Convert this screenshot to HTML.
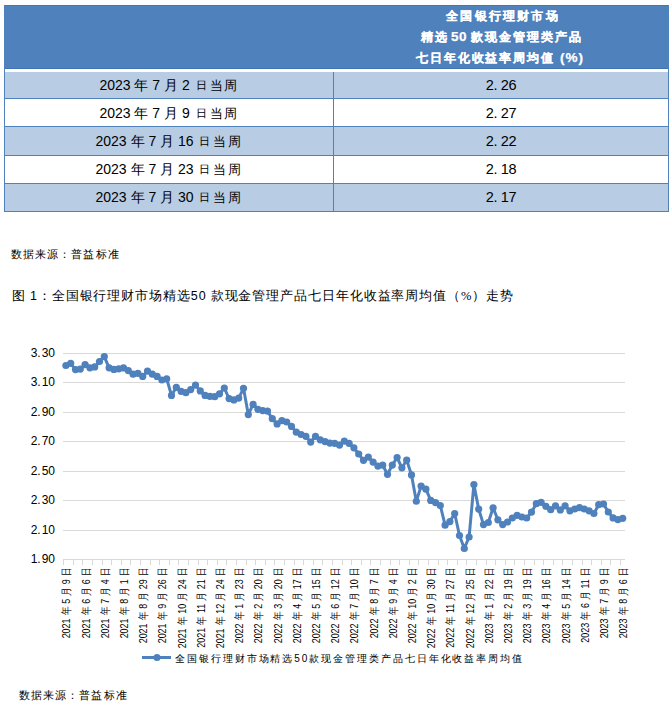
<!DOCTYPE html>
<html><head><meta charset="utf-8">
<style>
html,body{margin:0;padding:0;background:#fff;}
body{width:672px;height:702px;position:relative;overflow:hidden;font-family:"Liberation Sans",sans-serif;color:#000;}
.hdr{position:absolute;left:4px;top:5px;width:665px;height:64px;background:#4F81BD;box-sizing:border-box;border:1px solid #4577B8;border-bottom:1px solid #4073B6;}
.htxt{position:absolute;left:334px;width:334px;text-align:center;color:#fff;font-weight:bold;font-size:12.2px;letter-spacing:1.7px;font-family:"Liberation Serif",serif;white-space:nowrap;-webkit-text-stroke:0.25px #fff;}
.htxt b{font-family:"Liberation Sans",sans-serif;font-size:13.5px;letter-spacing:0.5px;}
.row{position:absolute;left:4px;width:665px;}
.hb{position:absolute;left:4px;width:665px;height:1px;background:#4F81BD;}
.vl{position:absolute;width:1px;background:#4F81BD;}
.c1{position:absolute;left:5px;width:328px;text-align:center;font-size:14px;white-space:nowrap;}
.d{font-size:10.5px;margin:0 3px 0 2px;vertical-align:1px;}
.w{letter-spacing:1.5px;font-size:13px;}
.c2{position:absolute;left:334px;width:334px;text-align:center;font-size:14.5px;letter-spacing:-0.3px;white-space:nowrap;}
.src{position:absolute;font-size:11px;letter-spacing:1.08px;font-family:"Liberation Serif",serif;white-space:nowrap;}
.cap{position:absolute;left:12px;top:288px;font-size:12.5px;letter-spacing:0.91px;font-family:"Liberation Serif",serif;white-space:nowrap;}
.cap i{font-style:normal;font-family:"Liberation Sans",sans-serif;}
svg{position:absolute;left:0;top:0;}
</style></head><body>
<div class="hdr"></div>
<div class="htxt" style="top:8px;letter-spacing:2.2px;text-indent:4px">全国银行理财市场</div>
<div class="htxt" style="top:29px;letter-spacing:2.0px;text-indent:2px">精选<b style="margin:0 4px 0 2px">50</b>款现金管理类产品</div>
<div class="htxt" style="top:50px;letter-spacing:1.9px;text-indent:-2px">七日年化收益率周均值<b style="margin-left:5px;letter-spacing:1px">(%)</b></div>
<div class="row" style="top:72px;height:26px;background:#B8CCE4"></div><div class="hb" style="top:98px"></div><div class="c1" style="top:72px;height:26px;line-height:26px">2023 年 7 月 2 <span class="d">日</span><span class="w">当周</span></div><div class="c2" style="top:72px;height:26px;line-height:26px">2.&nbsp;26</div><div class="row" style="top:99px;height:27px;background:#FFFFFF"></div><div class="hb" style="top:126px"></div><div class="c1" style="top:100px;height:27px;line-height:27px">2023 年 7 月 9 <span class="d">日</span><span class="w">当周</span></div><div class="c2" style="top:100px;height:27px;line-height:27px">2.&nbsp;27</div><div class="row" style="top:127px;height:28px;background:#B8CCE4"></div><div class="hb" style="top:155px"></div><div class="c1" style="top:127px;height:28px;line-height:28px">2023 年 7 月 16 <span class="d">日</span><span class="w">当周</span></div><div class="c2" style="top:127px;height:28px;line-height:28px">2.&nbsp;22</div><div class="row" style="top:156px;height:27px;background:#FFFFFF"></div><div class="hb" style="top:183px"></div><div class="c1" style="top:156px;height:27px;line-height:27px">2023 年 7 月 23 <span class="d">日</span><span class="w">当周</span></div><div class="c2" style="top:156px;height:27px;line-height:27px">2.&nbsp;18</div><div class="row" style="top:184px;height:27px;background:#B8CCE4"></div><div class="hb" style="top:211px"></div><div class="c1" style="top:184px;height:27px;line-height:27px">2023 年 7 月 30 <span class="d">日</span><span class="w">当周</span></div><div class="c2" style="top:184px;height:27px;line-height:27px">2.&nbsp;17</div>
<div class="vl" style="left:4px;top:5px;height:207px"></div>
<div class="vl" style="left:668px;top:5px;height:207px"></div>
<div class="vl" style="left:333px;top:72px;height:140px"></div>
<div class="src" style="left:11px;top:247px">数据来源：普益标准</div>
<div class="cap">图 <i>1</i>：全国银行理财市场精选<i>50</i> 款现金管理产品七日年化收益率周均值（%）走势</div>
<svg width="672" height="702" viewBox="0 0 672 702">
<g stroke="#D9D9D9" stroke-width="1" shape-rendering="crispEdges"><line x1="63.3" x2="625" y1="353.5" y2="353.5"/><line x1="63.3" x2="625" y1="382.5" y2="382.5"/><line x1="63.3" x2="625" y1="412.5" y2="412.5"/><line x1="63.3" x2="625" y1="441.5" y2="441.5"/><line x1="63.3" x2="625" y1="471.5" y2="471.5"/><line x1="63.3" x2="625" y1="500.5" y2="500.5"/><line x1="63.3" x2="625" y1="530.5" y2="530.5"/><line x1="63.3" x2="625" y1="559.5" y2="559.5"/><line x1="63.5" x2="63.5" y1="559.5" y2="565"/><line x1="73.5" x2="73.5" y1="559.5" y2="565"/><line x1="82.5" x2="82.5" y1="559.5" y2="565"/><line x1="92.5" x2="92.5" y1="559.5" y2="565"/><line x1="102.5" x2="102.5" y1="559.5" y2="565"/><line x1="111.5" x2="111.5" y1="559.5" y2="565"/><line x1="121.5" x2="121.5" y1="559.5" y2="565"/><line x1="130.5" x2="130.5" y1="559.5" y2="565"/><line x1="140.5" x2="140.5" y1="559.5" y2="565"/><line x1="150.5" x2="150.5" y1="559.5" y2="565"/><line x1="159.5" x2="159.5" y1="559.5" y2="565"/><line x1="169.5" x2="169.5" y1="559.5" y2="565"/><line x1="178.5" x2="178.5" y1="559.5" y2="565"/><line x1="188.5" x2="188.5" y1="559.5" y2="565"/><line x1="198.5" x2="198.5" y1="559.5" y2="565"/><line x1="207.5" x2="207.5" y1="559.5" y2="565"/><line x1="217.5" x2="217.5" y1="559.5" y2="565"/><line x1="226.5" x2="226.5" y1="559.5" y2="565"/><line x1="236.5" x2="236.5" y1="559.5" y2="565"/><line x1="246.5" x2="246.5" y1="559.5" y2="565"/><line x1="255.5" x2="255.5" y1="559.5" y2="565"/><line x1="265.5" x2="265.5" y1="559.5" y2="565"/><line x1="274.5" x2="274.5" y1="559.5" y2="565"/><line x1="284.5" x2="284.5" y1="559.5" y2="565"/><line x1="294.5" x2="294.5" y1="559.5" y2="565"/><line x1="303.5" x2="303.5" y1="559.5" y2="565"/><line x1="313.5" x2="313.5" y1="559.5" y2="565"/><line x1="322.5" x2="322.5" y1="559.5" y2="565"/><line x1="332.5" x2="332.5" y1="559.5" y2="565"/><line x1="342.5" x2="342.5" y1="559.5" y2="565"/><line x1="351.5" x2="351.5" y1="559.5" y2="565"/><line x1="361.5" x2="361.5" y1="559.5" y2="565"/><line x1="370.5" x2="370.5" y1="559.5" y2="565"/><line x1="380.5" x2="380.5" y1="559.5" y2="565"/><line x1="390.5" x2="390.5" y1="559.5" y2="565"/><line x1="399.5" x2="399.5" y1="559.5" y2="565"/><line x1="409.5" x2="409.5" y1="559.5" y2="565"/><line x1="418.5" x2="418.5" y1="559.5" y2="565"/><line x1="428.5" x2="428.5" y1="559.5" y2="565"/><line x1="438.5" x2="438.5" y1="559.5" y2="565"/><line x1="447.5" x2="447.5" y1="559.5" y2="565"/><line x1="457.5" x2="457.5" y1="559.5" y2="565"/><line x1="466.5" x2="466.5" y1="559.5" y2="565"/><line x1="476.5" x2="476.5" y1="559.5" y2="565"/><line x1="486.5" x2="486.5" y1="559.5" y2="565"/><line x1="495.5" x2="495.5" y1="559.5" y2="565"/><line x1="505.5" x2="505.5" y1="559.5" y2="565"/><line x1="514.5" x2="514.5" y1="559.5" y2="565"/><line x1="524.5" x2="524.5" y1="559.5" y2="565"/><line x1="534.5" x2="534.5" y1="559.5" y2="565"/><line x1="543.5" x2="543.5" y1="559.5" y2="565"/><line x1="553.5" x2="553.5" y1="559.5" y2="565"/><line x1="562.5" x2="562.5" y1="559.5" y2="565"/><line x1="572.5" x2="572.5" y1="559.5" y2="565"/><line x1="582.5" x2="582.5" y1="559.5" y2="565"/><line x1="591.5" x2="591.5" y1="559.5" y2="565"/><line x1="601.5" x2="601.5" y1="559.5" y2="565"/><line x1="610.5" x2="610.5" y1="559.5" y2="565"/><line x1="620.5" x2="620.5" y1="559.5" y2="565"/></g>
<g font-family="Liberation Sans" font-size="12" fill="#000"><text x="55" y="356.9" text-anchor="end">3.&#8202;30</text><text x="55" y="385.9" text-anchor="end">3.&#8202;10</text><text x="55" y="415.9" text-anchor="end">2.&#8202;90</text><text x="55" y="444.9" text-anchor="end">2.&#8202;70</text><text x="55" y="474.9" text-anchor="end">2.&#8202;50</text><text x="55" y="503.9" text-anchor="end">2.&#8202;30</text><text x="55" y="533.9" text-anchor="end">2.&#8202;10</text><text x="55" y="562.9" text-anchor="end">1.&#8202;90</text></g>
<g font-family="Liberation Sans" font-size="11" fill="#000"><text transform="translate(70.30,570.5) rotate(-90) scale(0.78,1)" text-anchor="end"><tspan font-size="11.5" dx="3.8">2021</tspan><tspan font-size="11" dx="3.8">年</tspan><tspan font-size="11.5" dx="3.8">5</tspan><tspan font-size="11" dx="3.8">月</tspan><tspan font-size="11.5" dx="3.8">9</tspan><tspan font-size="11" dx="3.8">日</tspan></text><text transform="translate(89.50,570.5) rotate(-90) scale(0.78,1)" text-anchor="end"><tspan font-size="11.5" dx="3.8">2021</tspan><tspan font-size="11" dx="3.8">年</tspan><tspan font-size="11.5" dx="3.8">6</tspan><tspan font-size="11" dx="3.8">月</tspan><tspan font-size="11.5" dx="3.8">6</tspan><tspan font-size="11" dx="3.8">日</tspan></text><text transform="translate(108.70,570.5) rotate(-90) scale(0.78,1)" text-anchor="end"><tspan font-size="11.5" dx="3.8">2021</tspan><tspan font-size="11" dx="3.8">年</tspan><tspan font-size="11.5" dx="3.8">7</tspan><tspan font-size="11" dx="3.8">月</tspan><tspan font-size="11.5" dx="3.8">4</tspan><tspan font-size="11" dx="3.8">日</tspan></text><text transform="translate(127.90,570.5) rotate(-90) scale(0.78,1)" text-anchor="end"><tspan font-size="11.5" dx="3.8">2021</tspan><tspan font-size="11" dx="3.8">年</tspan><tspan font-size="11.5" dx="3.8">8</tspan><tspan font-size="11" dx="3.8">月</tspan><tspan font-size="11.5" dx="3.8">1</tspan><tspan font-size="11" dx="3.8">日</tspan></text><text transform="translate(147.10,570.5) rotate(-90) scale(0.78,1)" text-anchor="end"><tspan font-size="11.5" dx="3.8">2021</tspan><tspan font-size="11" dx="3.8">年</tspan><tspan font-size="11.5" dx="3.8">8</tspan><tspan font-size="11" dx="3.8">月</tspan><tspan font-size="11.5" dx="3.8">29</tspan><tspan font-size="11" dx="3.8">日</tspan></text><text transform="translate(166.30,570.5) rotate(-90) scale(0.78,1)" text-anchor="end"><tspan font-size="11.5" dx="3.8">2021</tspan><tspan font-size="11" dx="3.8">年</tspan><tspan font-size="11.5" dx="3.8">9</tspan><tspan font-size="11" dx="3.8">月</tspan><tspan font-size="11.5" dx="3.8">26</tspan><tspan font-size="11" dx="3.8">日</tspan></text><text transform="translate(185.50,570.5) rotate(-90) scale(0.78,1)" text-anchor="end"><tspan font-size="11.5" dx="3.8">2021</tspan><tspan font-size="11" dx="3.8">年</tspan><tspan font-size="11.5" dx="3.8">10</tspan><tspan font-size="11" dx="3.8">月</tspan><tspan font-size="11.5" dx="3.8">24</tspan><tspan font-size="11" dx="3.8">日</tspan></text><text transform="translate(204.70,570.5) rotate(-90) scale(0.78,1)" text-anchor="end"><tspan font-size="11.5" dx="3.8">2021</tspan><tspan font-size="11" dx="3.8">年</tspan><tspan font-size="11.5" dx="3.8">11</tspan><tspan font-size="11" dx="3.8">月</tspan><tspan font-size="11.5" dx="3.8">21</tspan><tspan font-size="11" dx="3.8">日</tspan></text><text transform="translate(223.90,570.5) rotate(-90) scale(0.78,1)" text-anchor="end"><tspan font-size="11.5" dx="3.8">2021</tspan><tspan font-size="11" dx="3.8">年</tspan><tspan font-size="11.5" dx="3.8">12</tspan><tspan font-size="11" dx="3.8">月</tspan><tspan font-size="11.5" dx="3.8">24</tspan><tspan font-size="11" dx="3.8">日</tspan></text><text transform="translate(243.10,570.5) rotate(-90) scale(0.78,1)" text-anchor="end"><tspan font-size="11.5" dx="3.8">2022</tspan><tspan font-size="11" dx="3.8">年</tspan><tspan font-size="11.5" dx="3.8">1</tspan><tspan font-size="11" dx="3.8">月</tspan><tspan font-size="11.5" dx="3.8">23</tspan><tspan font-size="11" dx="3.8">日</tspan></text><text transform="translate(262.30,570.5) rotate(-90) scale(0.78,1)" text-anchor="end"><tspan font-size="11.5" dx="3.8">2022</tspan><tspan font-size="11" dx="3.8">年</tspan><tspan font-size="11.5" dx="3.8">2</tspan><tspan font-size="11" dx="3.8">月</tspan><tspan font-size="11.5" dx="3.8">20</tspan><tspan font-size="11" dx="3.8">日</tspan></text><text transform="translate(281.50,570.5) rotate(-90) scale(0.78,1)" text-anchor="end"><tspan font-size="11.5" dx="3.8">2022</tspan><tspan font-size="11" dx="3.8">年</tspan><tspan font-size="11.5" dx="3.8">3</tspan><tspan font-size="11" dx="3.8">月</tspan><tspan font-size="11.5" dx="3.8">20</tspan><tspan font-size="11" dx="3.8">日</tspan></text><text transform="translate(300.70,570.5) rotate(-90) scale(0.78,1)" text-anchor="end"><tspan font-size="11.5" dx="3.8">2022</tspan><tspan font-size="11" dx="3.8">年</tspan><tspan font-size="11.5" dx="3.8">4</tspan><tspan font-size="11" dx="3.8">月</tspan><tspan font-size="11.5" dx="3.8">17</tspan><tspan font-size="11" dx="3.8">日</tspan></text><text transform="translate(319.90,570.5) rotate(-90) scale(0.78,1)" text-anchor="end"><tspan font-size="11.5" dx="3.8">2022</tspan><tspan font-size="11" dx="3.8">年</tspan><tspan font-size="11.5" dx="3.8">5</tspan><tspan font-size="11" dx="3.8">月</tspan><tspan font-size="11.5" dx="3.8">15</tspan><tspan font-size="11" dx="3.8">日</tspan></text><text transform="translate(339.10,570.5) rotate(-90) scale(0.78,1)" text-anchor="end"><tspan font-size="11.5" dx="3.8">2022</tspan><tspan font-size="11" dx="3.8">年</tspan><tspan font-size="11.5" dx="3.8">6</tspan><tspan font-size="11" dx="3.8">月</tspan><tspan font-size="11.5" dx="3.8">12</tspan><tspan font-size="11" dx="3.8">日</tspan></text><text transform="translate(358.30,570.5) rotate(-90) scale(0.78,1)" text-anchor="end"><tspan font-size="11.5" dx="3.8">2022</tspan><tspan font-size="11" dx="3.8">年</tspan><tspan font-size="11.5" dx="3.8">7</tspan><tspan font-size="11" dx="3.8">月</tspan><tspan font-size="11.5" dx="3.8">10</tspan><tspan font-size="11" dx="3.8">日</tspan></text><text transform="translate(377.50,570.5) rotate(-90) scale(0.78,1)" text-anchor="end"><tspan font-size="11.5" dx="3.8">2022</tspan><tspan font-size="11" dx="3.8">年</tspan><tspan font-size="11.5" dx="3.8">8</tspan><tspan font-size="11" dx="3.8">月</tspan><tspan font-size="11.5" dx="3.8">7</tspan><tspan font-size="11" dx="3.8">日</tspan></text><text transform="translate(396.70,570.5) rotate(-90) scale(0.78,1)" text-anchor="end"><tspan font-size="11.5" dx="3.8">2022</tspan><tspan font-size="11" dx="3.8">年</tspan><tspan font-size="11.5" dx="3.8">9</tspan><tspan font-size="11" dx="3.8">月</tspan><tspan font-size="11.5" dx="3.8">4</tspan><tspan font-size="11" dx="3.8">日</tspan></text><text transform="translate(415.90,570.5) rotate(-90) scale(0.78,1)" text-anchor="end"><tspan font-size="11.5" dx="3.8">2022</tspan><tspan font-size="11" dx="3.8">年</tspan><tspan font-size="11.5" dx="3.8">10</tspan><tspan font-size="11" dx="3.8">月</tspan><tspan font-size="11.5" dx="3.8">2</tspan><tspan font-size="11" dx="3.8">日</tspan></text><text transform="translate(435.10,570.5) rotate(-90) scale(0.78,1)" text-anchor="end"><tspan font-size="11.5" dx="3.8">2022</tspan><tspan font-size="11" dx="3.8">年</tspan><tspan font-size="11.5" dx="3.8">10</tspan><tspan font-size="11" dx="3.8">月</tspan><tspan font-size="11.5" dx="3.8">30</tspan><tspan font-size="11" dx="3.8">日</tspan></text><text transform="translate(454.30,570.5) rotate(-90) scale(0.78,1)" text-anchor="end"><tspan font-size="11.5" dx="3.8">2022</tspan><tspan font-size="11" dx="3.8">年</tspan><tspan font-size="11.5" dx="3.8">11</tspan><tspan font-size="11" dx="3.8">月</tspan><tspan font-size="11.5" dx="3.8">27</tspan><tspan font-size="11" dx="3.8">日</tspan></text><text transform="translate(473.50,570.5) rotate(-90) scale(0.78,1)" text-anchor="end"><tspan font-size="11.5" dx="3.8">2022</tspan><tspan font-size="11" dx="3.8">年</tspan><tspan font-size="11.5" dx="3.8">12</tspan><tspan font-size="11" dx="3.8">月</tspan><tspan font-size="11.5" dx="3.8">25</tspan><tspan font-size="11" dx="3.8">日</tspan></text><text transform="translate(492.70,570.5) rotate(-90) scale(0.78,1)" text-anchor="end"><tspan font-size="11.5" dx="3.8">2023</tspan><tspan font-size="11" dx="3.8">年</tspan><tspan font-size="11.5" dx="3.8">1</tspan><tspan font-size="11" dx="3.8">月</tspan><tspan font-size="11.5" dx="3.8">22</tspan><tspan font-size="11" dx="3.8">日</tspan></text><text transform="translate(511.90,570.5) rotate(-90) scale(0.78,1)" text-anchor="end"><tspan font-size="11.5" dx="3.8">2023</tspan><tspan font-size="11" dx="3.8">年</tspan><tspan font-size="11.5" dx="3.8">2</tspan><tspan font-size="11" dx="3.8">月</tspan><tspan font-size="11.5" dx="3.8">19</tspan><tspan font-size="11" dx="3.8">日</tspan></text><text transform="translate(531.10,570.5) rotate(-90) scale(0.78,1)" text-anchor="end"><tspan font-size="11.5" dx="3.8">2023</tspan><tspan font-size="11" dx="3.8">年</tspan><tspan font-size="11.5" dx="3.8">3</tspan><tspan font-size="11" dx="3.8">月</tspan><tspan font-size="11.5" dx="3.8">19</tspan><tspan font-size="11" dx="3.8">日</tspan></text><text transform="translate(550.30,570.5) rotate(-90) scale(0.78,1)" text-anchor="end"><tspan font-size="11.5" dx="3.8">2023</tspan><tspan font-size="11" dx="3.8">年</tspan><tspan font-size="11.5" dx="3.8">4</tspan><tspan font-size="11" dx="3.8">月</tspan><tspan font-size="11.5" dx="3.8">16</tspan><tspan font-size="11" dx="3.8">日</tspan></text><text transform="translate(569.50,570.5) rotate(-90) scale(0.78,1)" text-anchor="end"><tspan font-size="11.5" dx="3.8">2023</tspan><tspan font-size="11" dx="3.8">年</tspan><tspan font-size="11.5" dx="3.8">5</tspan><tspan font-size="11" dx="3.8">月</tspan><tspan font-size="11.5" dx="3.8">14</tspan><tspan font-size="11" dx="3.8">日</tspan></text><text transform="translate(588.70,570.5) rotate(-90) scale(0.78,1)" text-anchor="end"><tspan font-size="11.5" dx="3.8">2023</tspan><tspan font-size="11" dx="3.8">年</tspan><tspan font-size="11.5" dx="3.8">6</tspan><tspan font-size="11" dx="3.8">月</tspan><tspan font-size="11.5" dx="3.8">11</tspan><tspan font-size="11" dx="3.8">日</tspan></text><text transform="translate(607.90,570.5) rotate(-90) scale(0.78,1)" text-anchor="end"><tspan font-size="11.5" dx="3.8">2023</tspan><tspan font-size="11" dx="3.8">年</tspan><tspan font-size="11.5" dx="3.8">7</tspan><tspan font-size="11" dx="3.8">月</tspan><tspan font-size="11.5" dx="3.8">9</tspan><tspan font-size="11" dx="3.8">日</tspan></text><text transform="translate(627.10,570.5) rotate(-90) scale(0.78,1)" text-anchor="end"><tspan font-size="11.5" dx="3.8">2023</tspan><tspan font-size="11" dx="3.8">年</tspan><tspan font-size="11.5" dx="3.8">8</tspan><tspan font-size="11" dx="3.8">月</tspan><tspan font-size="11.5" dx="3.8">6</tspan><tspan font-size="11" dx="3.8">日</tspan></text></g>
<polyline points="65.90,365.50 70.70,363.30 75.50,369.60 80.30,369.10 85.10,364.60 89.90,367.80 94.70,366.90 99.50,361.50 104.30,356.60 109.10,367.80 113.90,369.40 118.70,368.80 123.50,367.90 128.30,370.60 133.10,374.20 137.90,373.30 142.70,376.40 147.50,371.10 152.30,374.20 157.10,376.40 161.90,380.00 166.70,378.80 171.50,395.40 176.30,387.30 181.10,391.30 185.90,392.70 190.70,389.60 195.50,385.10 200.30,390.90 205.10,395.40 209.90,396.30 214.70,396.70 219.50,393.80 224.30,388.00 229.10,398.60 233.90,399.90 238.70,398.10 243.50,388.30 248.30,414.60 253.10,404.40 257.90,409.30 262.70,410.60 267.50,411.10 272.30,418.70 277.10,423.90 281.90,420.60 286.70,422.00 291.50,426.40 296.30,432.20 301.10,434.50 305.90,436.30 310.70,442.10 315.50,436.30 320.30,439.80 325.10,441.60 329.90,443.10 334.70,443.30 339.50,445.10 344.30,441.10 349.10,443.30 353.90,447.80 358.70,454.00 363.50,460.30 368.30,457.10 373.10,462.10 377.90,466.10 382.70,465.20 387.50,474.30 392.30,465.10 397.10,457.50 401.90,467.80 406.70,460.20 411.50,474.90 416.30,501.25 421.10,486.10 425.90,489.20 430.70,500.40 435.50,502.60 440.30,505.50 445.10,525.20 449.90,521.60 454.70,513.50 459.50,535.50 464.30,548.50 469.10,537.00 473.90,484.50 478.70,509.10 483.50,524.60 488.30,522.50 493.10,507.80 497.90,519.80 502.70,524.60 507.50,522.00 512.30,518.00 517.10,515.30 521.90,517.00 526.70,518.00 531.50,512.10 536.30,503.70 541.10,502.30 545.90,506.30 550.70,509.70 555.50,505.90 560.30,509.90 565.10,505.90 569.90,510.80 574.70,509.00 579.50,507.70 584.30,509.00 589.10,510.80 593.90,513.50 598.70,504.70 603.50,504.00 608.30,512.00 613.10,517.90 617.90,519.60 622.70,518.30" fill="none" stroke="#4F81BD" stroke-width="3" stroke-linejoin="round"/>
<g fill="#4F81BD"><circle cx="65.90" cy="365.50" r="3.6"/><circle cx="70.70" cy="363.30" r="3.6"/><circle cx="75.50" cy="369.60" r="3.6"/><circle cx="80.30" cy="369.10" r="3.6"/><circle cx="85.10" cy="364.60" r="3.6"/><circle cx="89.90" cy="367.80" r="3.6"/><circle cx="94.70" cy="366.90" r="3.6"/><circle cx="99.50" cy="361.50" r="3.6"/><circle cx="104.30" cy="356.60" r="3.6"/><circle cx="109.10" cy="367.80" r="3.6"/><circle cx="113.90" cy="369.40" r="3.6"/><circle cx="118.70" cy="368.80" r="3.6"/><circle cx="123.50" cy="367.90" r="3.6"/><circle cx="128.30" cy="370.60" r="3.6"/><circle cx="133.10" cy="374.20" r="3.6"/><circle cx="137.90" cy="373.30" r="3.6"/><circle cx="142.70" cy="376.40" r="3.6"/><circle cx="147.50" cy="371.10" r="3.6"/><circle cx="152.30" cy="374.20" r="3.6"/><circle cx="157.10" cy="376.40" r="3.6"/><circle cx="161.90" cy="380.00" r="3.6"/><circle cx="166.70" cy="378.80" r="3.6"/><circle cx="171.50" cy="395.40" r="3.6"/><circle cx="176.30" cy="387.30" r="3.6"/><circle cx="181.10" cy="391.30" r="3.6"/><circle cx="185.90" cy="392.70" r="3.6"/><circle cx="190.70" cy="389.60" r="3.6"/><circle cx="195.50" cy="385.10" r="3.6"/><circle cx="200.30" cy="390.90" r="3.6"/><circle cx="205.10" cy="395.40" r="3.6"/><circle cx="209.90" cy="396.30" r="3.6"/><circle cx="214.70" cy="396.70" r="3.6"/><circle cx="219.50" cy="393.80" r="3.6"/><circle cx="224.30" cy="388.00" r="3.6"/><circle cx="229.10" cy="398.60" r="3.6"/><circle cx="233.90" cy="399.90" r="3.6"/><circle cx="238.70" cy="398.10" r="3.6"/><circle cx="243.50" cy="388.30" r="3.6"/><circle cx="248.30" cy="414.60" r="3.6"/><circle cx="253.10" cy="404.40" r="3.6"/><circle cx="257.90" cy="409.30" r="3.6"/><circle cx="262.70" cy="410.60" r="3.6"/><circle cx="267.50" cy="411.10" r="3.6"/><circle cx="272.30" cy="418.70" r="3.6"/><circle cx="277.10" cy="423.90" r="3.6"/><circle cx="281.90" cy="420.60" r="3.6"/><circle cx="286.70" cy="422.00" r="3.6"/><circle cx="291.50" cy="426.40" r="3.6"/><circle cx="296.30" cy="432.20" r="3.6"/><circle cx="301.10" cy="434.50" r="3.6"/><circle cx="305.90" cy="436.30" r="3.6"/><circle cx="310.70" cy="442.10" r="3.6"/><circle cx="315.50" cy="436.30" r="3.6"/><circle cx="320.30" cy="439.80" r="3.6"/><circle cx="325.10" cy="441.60" r="3.6"/><circle cx="329.90" cy="443.10" r="3.6"/><circle cx="334.70" cy="443.30" r="3.6"/><circle cx="339.50" cy="445.10" r="3.6"/><circle cx="344.30" cy="441.10" r="3.6"/><circle cx="349.10" cy="443.30" r="3.6"/><circle cx="353.90" cy="447.80" r="3.6"/><circle cx="358.70" cy="454.00" r="3.6"/><circle cx="363.50" cy="460.30" r="3.6"/><circle cx="368.30" cy="457.10" r="3.6"/><circle cx="373.10" cy="462.10" r="3.6"/><circle cx="377.90" cy="466.10" r="3.6"/><circle cx="382.70" cy="465.20" r="3.6"/><circle cx="387.50" cy="474.30" r="3.6"/><circle cx="392.30" cy="465.10" r="3.6"/><circle cx="397.10" cy="457.50" r="3.6"/><circle cx="401.90" cy="467.80" r="3.6"/><circle cx="406.70" cy="460.20" r="3.6"/><circle cx="411.50" cy="474.90" r="3.6"/><circle cx="416.30" cy="501.25" r="3.6"/><circle cx="421.10" cy="486.10" r="3.6"/><circle cx="425.90" cy="489.20" r="3.6"/><circle cx="430.70" cy="500.40" r="3.6"/><circle cx="435.50" cy="502.60" r="3.6"/><circle cx="440.30" cy="505.50" r="3.6"/><circle cx="445.10" cy="525.20" r="3.6"/><circle cx="449.90" cy="521.60" r="3.6"/><circle cx="454.70" cy="513.50" r="3.6"/><circle cx="459.50" cy="535.50" r="3.6"/><circle cx="464.30" cy="548.50" r="3.6"/><circle cx="469.10" cy="537.00" r="3.6"/><circle cx="473.90" cy="484.50" r="3.6"/><circle cx="478.70" cy="509.10" r="3.6"/><circle cx="483.50" cy="524.60" r="3.6"/><circle cx="488.30" cy="522.50" r="3.6"/><circle cx="493.10" cy="507.80" r="3.6"/><circle cx="497.90" cy="519.80" r="3.6"/><circle cx="502.70" cy="524.60" r="3.6"/><circle cx="507.50" cy="522.00" r="3.6"/><circle cx="512.30" cy="518.00" r="3.6"/><circle cx="517.10" cy="515.30" r="3.6"/><circle cx="521.90" cy="517.00" r="3.6"/><circle cx="526.70" cy="518.00" r="3.6"/><circle cx="531.50" cy="512.10" r="3.6"/><circle cx="536.30" cy="503.70" r="3.6"/><circle cx="541.10" cy="502.30" r="3.6"/><circle cx="545.90" cy="506.30" r="3.6"/><circle cx="550.70" cy="509.70" r="3.6"/><circle cx="555.50" cy="505.90" r="3.6"/><circle cx="560.30" cy="509.90" r="3.6"/><circle cx="565.10" cy="505.90" r="3.6"/><circle cx="569.90" cy="510.80" r="3.6"/><circle cx="574.70" cy="509.00" r="3.6"/><circle cx="579.50" cy="507.70" r="3.6"/><circle cx="584.30" cy="509.00" r="3.6"/><circle cx="589.10" cy="510.80" r="3.6"/><circle cx="593.90" cy="513.50" r="3.6"/><circle cx="598.70" cy="504.70" r="3.6"/><circle cx="603.50" cy="504.00" r="3.6"/><circle cx="608.30" cy="512.00" r="3.6"/><circle cx="613.10" cy="517.90" r="3.6"/><circle cx="617.90" cy="519.60" r="3.6"/><circle cx="622.70" cy="518.30" r="3.6"/></g>
<line x1="142" x2="171" y1="657.5" y2="657.5" stroke="#4F81BD" stroke-width="3"/>
<circle cx="157" cy="657.5" r="3.6" fill="#4F81BD"/>
<text x="175" y="661.5" font-family="Liberation Sans" font-size="10" letter-spacing="1.93" fill="#000">全国银行理财市场精选50款现金管理类产品七日年化收益率周均值</text>
</svg>
<div class="src" style="left:19px;top:687.5px">数据来源：普益标准</div>
</body></html>
